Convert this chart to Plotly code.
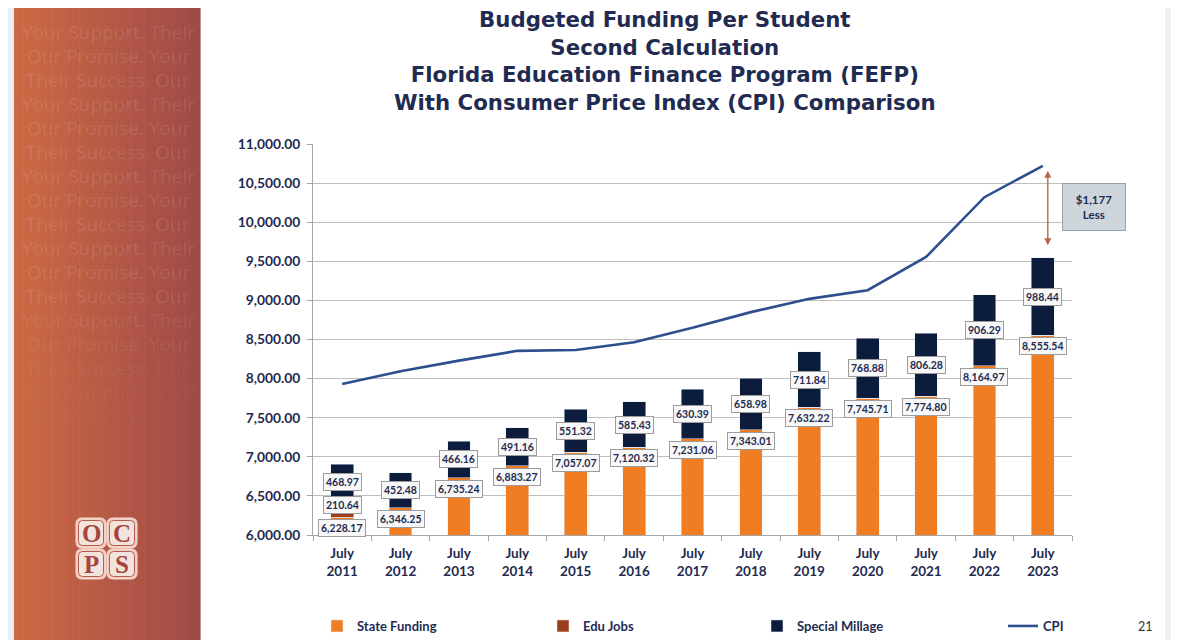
import plotly.graph_objects as go

# ---------------- data ----------------
years = ["July<br>2011", "July<br>2012", "July<br>2013", "July<br>2014", "July<br>2015",
         "July<br>2016", "July<br>2017", "July<br>2018", "July<br>2019", "July<br>2020",
         "July<br>2021", "July<br>2022", "July<br>2023"]
state_funding = [6228.17, 6346.25, 6735.24, 6883.27, 7057.07, 7120.32, 7231.06,
                 7343.01, 7632.22, 7745.71, 7774.80, 8164.97, 8555.54]
edu_jobs = [210.64, 0, 0, 0, 0, 0, 0, 0, 0, 0, 0, 0, 0]
special_millage = [468.97, 452.48, 466.16, 491.16, 551.32, 585.43, 630.39,
                   658.98, 711.84, 768.88, 806.28, 906.29, 988.44]
cpi = [7930, 8095, 8230, 8355, 8365, 8465, 8650, 8850, 9020, 9130, 9555, 10320, 10721]
gap_text = "$1,177<br>Less"

# ---------------- geometry helpers (window pixel -> paper) ----------------
# the page body has an 8px margin, so the figure is drawn 8px right/down
OFF = 8
W, H = 1179 - OFF, 640 - OFF
PL, PR, PT, PB = 313, 1072, 144, 535          # plot area in window pixels
L, R, T, B = PL - OFF, 1179 - PR, PT - OFF, 640 - PB
PW, PH = PR - PL, PB - PT


def px(x):
    return (x - PL) / PW


def py(y):
    return (PB - y) / PH


def rounded(x0, y0, x1, y1, r):
    """Rounded rectangle path in paper coords from window pixels."""
    pts = [
        f"M{px(x0 + r)},{py(y0)}", f"L{px(x1 - r)},{py(y0)}",
        f"Q{px(x1)},{py(y0)} {px(x1)},{py(y0 + r)}", f"L{px(x1)},{py(y1 - r)}",
        f"Q{px(x1)},{py(y1)} {px(x1 - r)},{py(y1)}", f"L{px(x0 + r)},{py(y1)}",
        f"Q{px(x0)},{py(y1)} {px(x0)},{py(y1 - r)}", f"L{px(x0)},{py(y0 + r)}",
        f"Q{px(x0)},{py(y0)} {px(x0 + r)},{py(y0)}", "Z"]
    return " ".join(pts)


NAVY = "#1f2b50"
ORANGE = "#f07d22"
BROWN = "#9a3e1e"
DARK = "#0c1c3d"
LINE = "#2d4f8d"
FONT = "Lato"

fig = go.Figure()
fig.add_trace(go.Bar(x=years, y=state_funding, name="State Funding", marker_color=ORANGE,
                     width=0.39, legend="legend2"))
fig.add_trace(go.Bar(x=years, y=edu_jobs, name="Edu Jobs", marker_color=BROWN,
                     width=0.39, legend="legend3"))
fig.add_trace(go.Bar(x=years, y=special_millage, name="Special Millage", marker_color=DARK,
                     width=0.39, legend="legend4"))
fig.add_trace(go.Scatter(x=years, y=cpi, name="CPI", mode="lines",
                         line=dict(color=LINE, width=2.6), legend="legend5"))

ann = []
lab = dict(showarrow=False, font=dict(family=FONT, size=10.5, color=NAVY, weight="bold"),
           bgcolor="#f8f8f8", bordercolor="#9c9c9c", borderwidth=1, borderpad=2,
           xref="x", yref="y", xanchor="center", yanchor="middle")
for i, yr in enumerate(years):
    s, e, m = state_funding[i], edu_jobs[i], special_millage[i]
    ann.append(dict(x=yr, y=s, text=f"{s:,.2f}", yshift=-11, **lab))
    if e:
        ann.append(dict(x=yr, y=s + e / 2, text=f"{e:,.2f}", yshift=4, **lab))
    ann.append(dict(x=yr, y=s + e + m / 2, text=f"{m:,.2f}", **lab))

# gap arrow
top23 = state_funding[-1] + edu_jobs[-1] + special_millage[-1]
ann.append(dict(x=years[-1], y=cpi[-1], ax=years[-1], ay=top23, xref="x", yref="y",
                axref="x", ayref="y", xshift=5, text="", showarrow=True,
                arrowhead=2, startarrowhead=2, arrowside="end+start", arrowsize=1,
                startarrowsize=1, arrowwidth=1.4, arrowcolor="#b8684a",
                standoff=5, startstandoff=11))
ann.append(dict(x=px(1094), y=py(207), xref="paper", yref="paper", text=gap_text,
                xanchor="center", yanchor="middle",
                showarrow=False, width=60, height=44, bgcolor="#ced5db",
                bordercolor="#98a1a8", borderwidth=1,
                font=dict(family=FONT, size=11.5, color=NAVY, weight="bold")))

# title
ann.append(dict(x=px(665), y=py(5), xref="paper", yref="paper", xanchor="center",
                yanchor="top", showarrow=False,
                text="Budgeted Funding Per Student<br>Second Calculation<br>"
                     "Florida Education Finance Program (FEFP)<br>"
                     "With Consumer Price Index (CPI) Comparison",
                font=dict(family="DejaVu Sans", size=21.3, color=NAVY, weight="bold")))

# page number
ann.append(dict(x=px(1145), y=py(626), xref="paper", yref="paper", text="21",
                xanchor="center", yanchor="middle",
                showarrow=False, font=dict(family=FONT, size=12.5, color="#333333")))

# ---------------- decoration: slide side panel ----------------
shapes = []
shapes.append(dict(type="rect", xref="paper", yref="paper", x0=px(0), x1=px(14),
                   y0=py(640), y1=py(0), fillcolor="#eceef6", line_width=0, layer="below"))
shapes.append(dict(type="rect", xref="paper", yref="paper", x0=px(1165), x1=px(1179),
                   y0=py(640), y1=py(0), fillcolor="#eef0f5", line_width=0, layer="below"))
c0, c1 = (204, 106, 68), (160, 74, 72)
n = 40
for k in range(n):
    t = k / (n - 1)
    col = tuple(round(c0[j] + (c1[j] - c0[j]) * t) for j in range(3))
    xa = 14 + (200 - 14) * k / n
    xb = 14 + (200 - 14) * (k + 1) / n + 0.6
    shapes.append(dict(type="rect", xref="paper", yref="paper", x0=px(xa), x1=px(xb),
                       y0=py(640), y1=py(0), fillcolor="rgb(%d,%d,%d)" % col,
                       line_width=0, layer="below"))

phrases = ["Their Success. Our", "Your Support. Their", "Our Promise. Your"]
for r in range(1, 19):
    yy = 8 + 24 * r
    alpha = 0.11 if yy < 290 else max(0.015, 0.11 - (yy - 290) * 0.00065)
    ann.append(dict(x=px(108), y=py(yy), xref="paper", yref="paper", showarrow=False,
                    text=phrases[r % 3], xanchor="center", yanchor="middle",
                    font=dict(family="Open Sans", size=19,
                              color=f"rgba(255,255,255,{alpha:.3f})", weight=500)))

# OCPS logo
letters = [("O", 76, 518), ("C", 107, 518), ("P", 76, 549), ("S", 107, 549)]
for ch, lx, ly in letters:
    shapes.append(dict(type="path", xref="paper", yref="paper",
                       path=rounded(lx, ly, lx + 30, ly + 30, 6), fillcolor="#f2cfc2",
                       line=dict(color="#f6dcd2", width=1)))
    shapes.append(dict(type="path", xref="paper", yref="paper",
                       path=rounded(lx + 2.5, ly + 2.5, lx + 27.5, ly + 27.5, 4),
                       fillcolor="#f3e3dd", line=dict(color="#b65a4b", width=1)))
    ann.append(dict(x=px(lx + 15), y=py(ly + 15), xref="paper", yref="paper", text=ch,
                    xanchor="center", yanchor="middle",
                    showarrow=False, font=dict(family="Liberation Serif", size=25,
                                               color="#a4463c", weight="bold")))

leg = dict(orientation="h", yanchor="middle", xanchor="left", bgcolor="rgba(0,0,0,0)",
           font=dict(family=FONT, size=13, color=NAVY, weight="bold"), itemwidth=30)

fig.update_layout(
    width=W, height=H, margin=dict(l=L, r=R, t=T, b=B, autoexpand=False),
    paper_bgcolor="white", plot_bgcolor="white", barmode="stack", bargap=0.6,
    annotations=ann, shapes=shapes, showlegend=True,
    legend2=dict(x=px(357 - 40), y=py(626), **leg),
    legend3=dict(x=px(583 - 40), y=py(626), **leg),
    legend4=dict(x=px(797 - 40), y=py(626), **leg),
    legend5=dict(x=px(1043 - 40), y=py(626), **leg),
    xaxis=dict(showline=True, linecolor="#a6a6a6", linewidth=1, ticks="outside",
               tickson="boundaries", ticklen=5, tickcolor="#a6a6a6", showgrid=False,
               ticklabelstandoff=6,
               tickfont=dict(family=FONT, size=13.5, color=NAVY, weight="bold")),
    yaxis=dict(range=[6000, 11000], dtick=500, tickformat=",.2f", showline=True,
               linecolor="#a6a6a6", linewidth=1, ticks="outside", ticklen=5,
               tickcolor="#a6a6a6", gridcolor="#bfbfbf", gridwidth=1, zeroline=False,
               ticklabelstandoff=4,
               tickfont=dict(family=FONT, size=13.8, color=NAVY, weight="bold")),
)

fig.write_html("out.html")
